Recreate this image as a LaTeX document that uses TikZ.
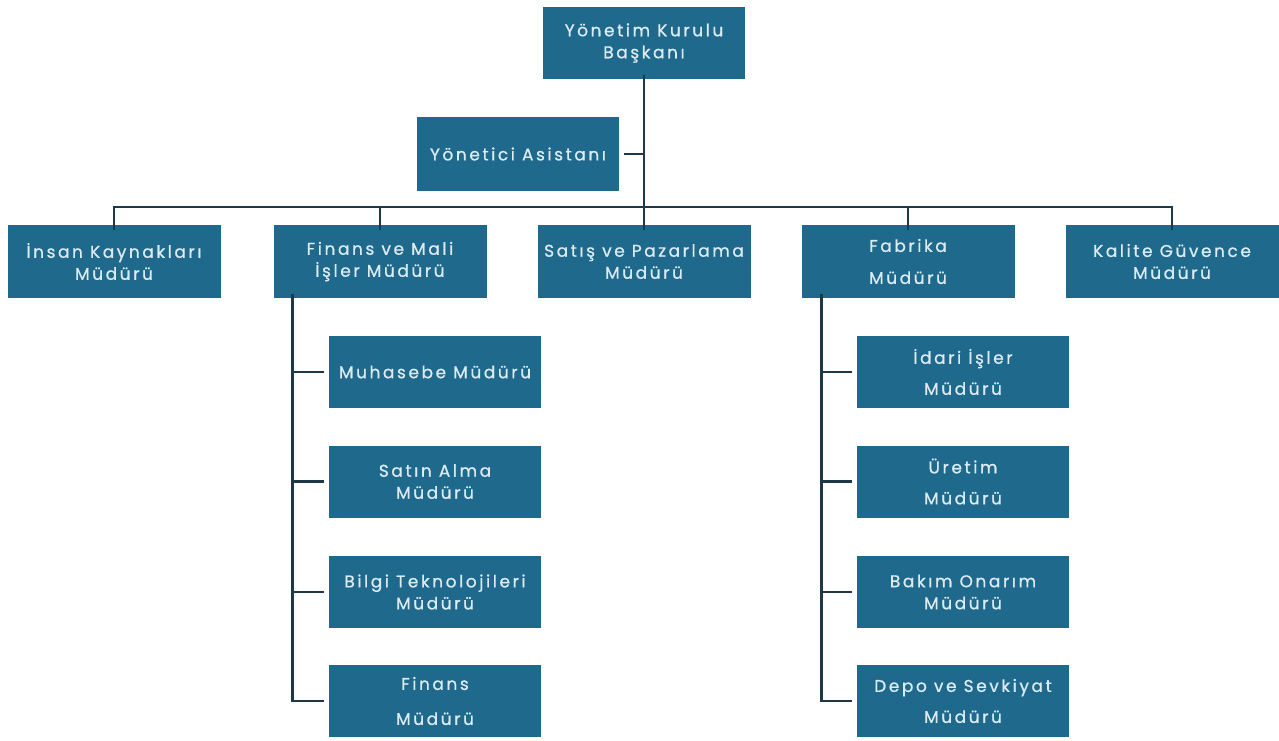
\documentclass[tikz,border=0pt]{standalone}
\usepackage{fontspec}
\setmainfont{Poppins}[LetterSpace=15, FakeBold=0.8]
\definecolor{boxfill}{HTML}{1F6A8C}
\definecolor{boxtext}{HTML}{DCEBF2}
\definecolor{linec}{HTML}{1E3846}
\tikzset{
  orgbox/.style={fill=boxfill, text=boxtext, inner sep=0pt, align=center,
    font=\fontsize{17}{22}\selectfont, minimum height=73pt},
  widebox/.style={orgbox, minimum width=213pt},
  subbox/.style={orgbox, minimum width=212pt, minimum height=72pt},
  conn/.style={draw=linec, line width=2.8pt},
}
\begin{document}
\begin{tikzpicture}[x=1pt,y=-1pt]
\useasboundingbox (0,0) rectangle (1279,740);
% top
\node[orgbox, minimum width=202pt, minimum height=72pt] (top) at (644,43) {Yönetim Kurulu\\Başkanı};
\node[orgbox, minimum width=202pt, minimum height=74pt] (asst) at (518,154) {Yönetici Asistanı};
% level 2
\node[widebox] (ik)  at (114,261.5) {İnsan Kaynakları\\Müdürü};
\node[widebox] (fin) at (380,261.5) {Finans ve Mali\\İşler Müdürü};
\node[widebox] (sat) at (644,261.5) {Satış ve Pazarlama\\Müdürü};
\node[widebox, font=\fontsize{17}{32}\selectfont] (fab) at (908,261.5) {Fabrika\\Müdürü};
\node[widebox] (kg)  at (1172,261.5) {Kalite Güvence\\Müdürü};
% finance subs
\node[subbox] (mu) at (435,372) {Muhasebe Müdürü};
\node[subbox] (sa) at (435,481.5) {Satın Alma\\Müdürü};
\node[subbox] (bt) at (435,592) {Bilgi Teknolojileri\\Müdürü};
\node[subbox, font=\fontsize{17}{35}\selectfont] (fm) at (435,701) {Finans\\Müdürü};
% factory subs
\node[subbox, font=\fontsize{17}{31}\selectfont] (id) at (963,372) {İdari İşler\\Müdürü};
\node[subbox, font=\fontsize{17}{31}\selectfont] (ur) at (963,481.5) {Üretim\\Müdürü};
\node[subbox] (bo) at (963,592) {Bakım Onarım\\Müdürü};
\node[subbox, font=\fontsize{17}{31}\selectfont] (dp) at (963,701) {Depo ve Sevkiyat\\Müdürü};
% connectors
\coordinate (hub) at (644,207);
\draw[conn] ([yshift=4pt]top.south) -- (hub) -- ([yshift=-5pt]sat.north);
\draw[conn] ([xshift=5pt]asst.east) -- (top.south |- asst.east);
\draw[conn] ([yshift=-5pt]ik.north) |- (hub) -| ([yshift=-5pt]kg.north);
\draw[conn] (fin.north |- hub) -- ([yshift=-5pt]fin.north);
\draw[conn] (fab.north |- hub) -- ([yshift=-5pt]fab.north);
% finance branch
\coordinate (fv) at ([xshift=19pt,yshift=4pt]fin.south west);
\draw[conn] (fv) |- ([xshift=-5pt]fm.west);
\draw[conn] (fv |- mu.west) -- ([xshift=-5pt]mu.west);
\draw[conn] (fv |- sa.west) -- ([xshift=-5pt]sa.west);
\draw[conn] (fv |- bt.west) -- ([xshift=-5pt]bt.west);
% factory branch
\coordinate (bv) at ([xshift=20pt,yshift=4pt]fab.south west);
\draw[conn] (bv) |- ([xshift=-5pt]dp.west);
\draw[conn] (bv |- id.west) -- ([xshift=-5pt]id.west);
\draw[conn] (bv |- ur.west) -- ([xshift=-5pt]ur.west);
\draw[conn] (bv |- bo.west) -- ([xshift=-5pt]bo.west);
\end{tikzpicture}
\end{document}
